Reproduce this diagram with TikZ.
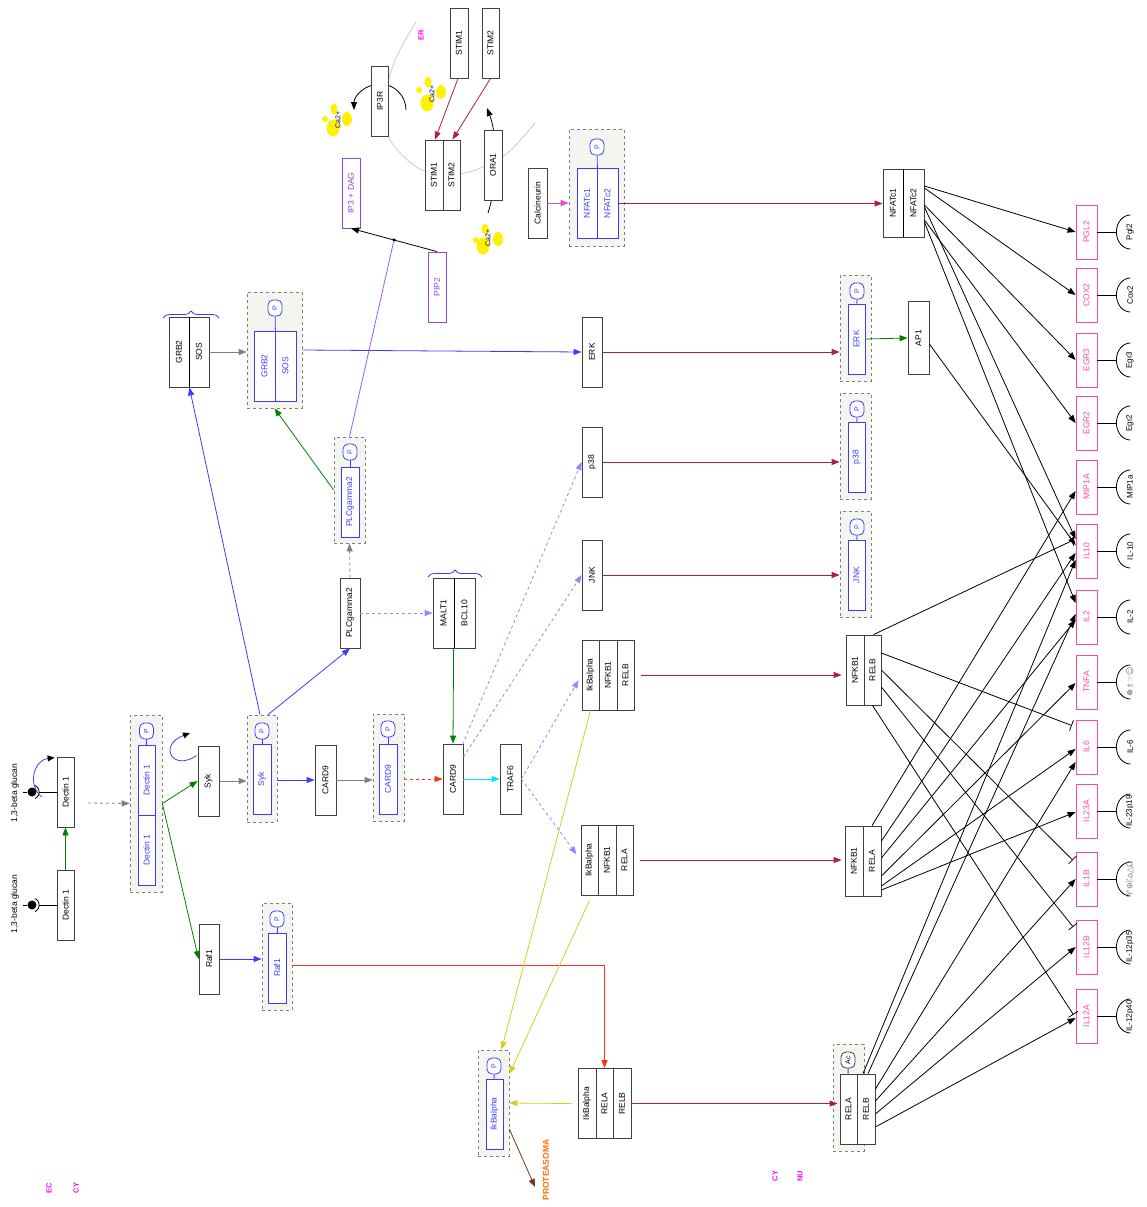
\documentclass[tikz,border=0pt]{standalone}
\usepackage{fontspec}
\setmainfont{Liberation Sans}
\newfontfamily\symfont{DejaVu Sans}
\usetikzlibrary{arrows.meta, calc, decorations.pathreplacing}
\definecolor{pblue}{RGB}{60,60,255}
\definecolor{dgreen}{RGB}{0,130,0}
\definecolor{crim}{RGB}{175,30,75}
\definecolor{lred}{RGB}{255,50,30}
\definecolor{lav}{RGB}{160,130,255}
\definecolor{lip}{RGB}{140,70,225}
\definecolor{purp}{RGB}{160,90,235}
\definecolor{magen}{RGB}{220,80,220}
\definecolor{ccyan}{RGB}{0,230,255}
\definecolor{yel}{RGB}{210,205,40}
\definecolor{brn}{RGB}{110,60,20}
\definecolor{gpink}{RGB}{255,70,170}
\definecolor{lblpink}{RGB}{255,0,255}
\definecolor{orng}{RGB}{255,110,0}
\definecolor{grpfill}{RGB}{245,245,240}
\newcommand{\rtx}[1]{\rotatebox{90}{#1}}
\tikzset{prot/.style={rectangle,draw=black!75,fill=white,line width=0.8pt,minimum width=20pt,minimum height=70pt,inner sep=0pt,font=\fontsize{8.5}{9}\selectfont},
pprot/.style={prot,draw=pblue,text=pblue},
lipid/.style={prot,draw=lip,text=lip},
gene/.style={prot,draw=gpink,text=gpink,minimum width=21pt,minimum height=54pt},
grp/.style={rectangle,draw=gray,dashed,fill=grpfill,line width=0.7pt,inner sep=0pt},
phos/.style={rectangle,rounded corners=5pt,draw=pblue,text=pblue,fill=white,line width=0.8pt,minimum width=14pt,minimum height=16pt,inner sep=0pt,font=\fontsize{7}{7}\selectfont},
comp/.style={font=\fontsize{7.5}{8}\selectfont\bfseries,text=lblpink},
line/.style={-{Triangle[length=8pt,width=6pt]},line width=0.8pt},
tbar/.style={-{Bar[width=11pt]},line width=0.8pt,shorten >=4pt},
brc/.style={draw=pblue,line width=0.8pt,decorate,decoration={brace,amplitude=7pt}}}

\begin{document}
\begin{tikzpicture}[x=1pt,y=-1pt]
\fill[white] (0,0) rectangle (1147,1207);
\useasboundingbox (0,0) rectangle (1147,1207);

% ER membrane and calcium
\draw[black!20,line width=0.8pt] plot[smooth] coordinates {(416,22) (396,58) (384,100) (390,140) (422,170) (465,173) (505,155) (535,123)};
\fill[yellow] (333,128) ellipse (6.5 and 8.5) (325,119) circle (3) (334,109) ellipse (3.5 and 5.5) (347,119) ellipse (5 and 7);
\fill[yellow] (427,103) ellipse (6.5 and 8.5) (419,90) circle (3) (428,82) ellipse (3.5 and 5.5) (441,92) ellipse (5 and 7);
\fill[yellow] (483,246) ellipse (6.5 and 8.5) (476,240) circle (3) (485,229) ellipse (3.5 and 5.5) (498,239) ellipse (5 and 7);
\node[font=\fontsize{7}{7}\selectfont] (caA) at (338,120) {\rtx{Ca2+}};
\node[font=\fontsize{7}{7}\selectfont] (caB) at (432,94) {\rtx{Ca2+}};
\node[font=\fontsize{7}{7}\selectfont] (caC) at (488,238) {\rtx{Ca2+}};
\draw[line] (406,110) arc[start angle=0,end angle=-180,radius=26];
\draw[line] (488,213) .. controls (496,190) and (499,140) .. (487,108);

% compartments
\node[comp] (ec) at (49,1188) {\rtx{EC}};
\node[comp] (cyA) at (76,1188) {\rtx{CY}};
\node[comp] (cyB) at (775,1176) {\rtx{CY}};
\node[comp] (nu) at (800,1176) {\rtx{NU}};
\node[comp] (er) at (421,35) {\rtx{ER}};
\node[font=\fontsize{8.5}{9}\selectfont\bfseries,text=orng] (prts) at (546,1170) {\rtx{PROTEASOMA}};
\coordinate (prtsIn) at (535,1187);
\coordinate (decDash) at (88,803);

% receptor
\node[font=\fontsize{8.5}{9}\selectfont] (glcA) at (15,904) {\rtx{1,3-beta glucan}};
\node[font=\fontsize{8.5}{9}\selectfont] (glcB) at (15,793) {\rtx{1,3-beta glucan}};
\node[prot,minimum width=17pt] (decA) at (65.5,905) {\rtx{Dectin 1}};
\node[prot,minimum width=17pt] (decB) at (65.5,792) {\rtx{Dectin 1}};
\node[circle,fill=black,minimum size=9pt,inner sep=0pt] (ligA) at (32,905) {};
\node[circle,fill=black,minimum size=9pt,inner sep=0pt] (ligB) at (32,792) {};
\draw[line width=0.8pt] ([shift={(3,-6.5)}]ligA.center) arc[start angle=-65,end angle=65,radius=7.2];
\draw[line width=0.8pt] ([shift={(3,-6.5)}]ligB.center) arc[start angle=-65,end angle=65,radius=7.2];
\draw[line width=0.8pt] ($(ligA)+(7.2,0)$) -- (decA.west);
\draw[line width=0.8pt] ($(ligB)+(7.2,0)$) -- (decB.west);
\draw[line width=0.8pt] (ligA.west) -- ++(-4,0);
\draw[line width=0.8pt] (ligB.west) -- ++(-4,0);
\draw[pblue,line width=0.8pt,-{Triangle[length=7pt,width=6pt,color=black]}] ($(decB.west)+(-15,5)$) .. controls ($(decB.west)+(-30,-8)$) and ($(decB.west)+(-22,-32)$) .. ($(decB.north west)+(-2,1)$);

% Dectin 1 dimer
\node[grp,minimum width=32pt,minimum height=177pt] (gDec) at (146,803.5) {};
\node[pprot,minimum width=17pt] (pdecA) at (146.5,780) {\rtx{Dectin 1}};
\node[pprot,minimum width=17pt] (pdecB) at (146.5,850) {\rtx{Dectin 1}};
\draw[pblue,line width=1.4pt] (pdecA.south west) -- (pdecA.south east);
\node[phos] (phDec) at (146.5,731) {\rtx{P}};
\draw[pblue,line width=0.8pt] (phDec) -- (pdecA);

% Syk
\node[prot,minimum width=21pt] (syk) at (208.5,781) {\rtx{Syk}};
\draw[pblue,line width=0.8pt,-{Triangle[length=7pt,width=6pt,color=black]}] ($(syk.north west)+(-1,10)$) .. controls (172,772) and (158,745) .. (190,733);
\node[grp,minimum width=30pt,minimum height=107pt] (gSyk) at (262,768.5) {};
\node[pprot,minimum width=18pt] (psyk) at (262,779.5) {\rtx{Syk}};
\node[phos] (phSyk) at (262,731) {\rtx{P}};
\draw[pblue,line width=0.8pt] (phSyk) -- (psyk);

% Raf1
\node[prot] (raf) at (209,959) {\rtx{Raf1}};
\node[grp,minimum width=30pt,minimum height=107pt] (gRaf) at (277,956.5) {};
\node[pprot,minimum width=18pt] (praf) at (277,968) {\rtx{Raf1}};
\node[phos] (phRaf) at (277,919) {\rtx{P}};
\draw[pblue,line width=0.8pt] (phRaf) -- (praf);

% CARD9
\node[prot,minimum width=21pt] (cardA) at (325.5,780) {\rtx{CARD9}};
\node[grp,minimum width=31pt,minimum height=107pt] (gCard) at (388.5,767.5) {};
\node[pprot,minimum width=18pt] (pcard) at (388,779) {\rtx{CARD9}};
\node[phos] (phCard) at (388,729) {\rtx{P}};
\draw[pblue,line width=0.8pt] (phCard) -- (pcard);
\node[prot] (cardB) at (453,779) {\rtx{CARD9}};
\node[prot,minimum width=21pt] (traf) at (510.5,779) {\rtx{TRAF6}};

% GRB2/SOS
\node[prot] (grb) at (179,352) {\rtx{GRB2}};
\node[prot] (sos) at (199,352) {\rtx{SOS}};
\draw[line width=1.5pt] (grb.north east) -- (grb.south east);
\draw[brc] (163,318) -- (219,318);
\node[grp,minimum width=55pt,minimum height=116pt] (gGrb) at (274.5,350) {};
\node[pprot,minimum width=21pt] (pgrb) at (264.5,366) {\rtx{GRB2}};
\node[pprot,minimum width=21pt] (psos) at (285.5,366) {\rtx{SOS}};
\draw[pblue,line width=1.4pt] (pgrb.north east) -- (pgrb.south east);
\node[phos] (phGrb) at (275,308) {\rtx{P}};
\draw[pblue,line width=0.8pt] (phGrb) -- (pgrb.north east);

% PLCgamma2
\node[prot] (plcg) at (350,613) {\rtx{PLCgamma2}};
\node[grp,minimum width=31pt,minimum height=106pt] (gPlc) at (349.5,490) {};
\node[pprot,minimum width=18pt] (pplc) at (350,502) {\rtx{PLCgamma2}};
\node[phos] (phPlc) at (350,452) {\rtx{P}};
\draw[pblue,line width=0.8pt] (phPlc) -- (pplc);

% MALT1/BCL10
\node[prot,minimum width=21pt] (malt) at (443.5,613) {\rtx{MALT1}};
\node[prot,minimum width=21pt] (bcl) at (464.5,613) {\rtx{BCL10}};
\draw[line width=1.5pt] (malt.north east) -- (malt.south east);
\draw[brc] (428,577) -- (482,577);

% lipids, IP3R, STIM, ORA1
\node[lipid,minimum width=18pt] (ipdag) at (351,193) {\rtx{IP3 + DAG}};
\node[lipid,minimum width=18pt] (pip) at (437,287) {\rtx{PIP2}};
\node[circle,fill=black,inner sep=0pt,minimum size=3.5pt] (ipdot) at (394,240) {};
\node[prot,minimum width=17pt] (iptr) at (380,101) {\rtx{IP3R}};
\node[prot,minimum width=18pt] (stimT) at (459,43) {\rtx{STIM1}};
\node[prot,minimum width=17pt] (stimU) at (490.5,43) {\rtx{STIM2}};
\node[prot,minimum width=18pt] (stimA) at (434,175) {\rtx{STIM1}};
\node[prot,minimum width=17pt] (stimB) at (451.5,175) {\rtx{STIM2}};
\node[prot,minimum width=18pt] (ora) at (493,165) {\rtx{ORA1}};
\node[prot,minimum width=19pt] (calc) at (537.5,203) {\rtx{Calcineurin}};

% NFATc
\node[grp,minimum width=55pt,minimum height=117pt] (gNfat) at (596.5,187.5) {};
\node[pprot,minimum width=20pt] (pnfatA) at (587,203.5) {\rtx{NFATc1}};
\node[pprot,minimum width=21pt] (pnfatB) at (607.5,203.5) {\rtx{NFATc2}};
\draw[pblue,line width=1.4pt] (pnfatA.north east) -- (pnfatA.south east);
\node[phos] (phNfat) at (597,147) {\rtx{P}};
\draw[pblue,line width=0.8pt] (phNfat) -- (pnfatA.north east);
\node[prot,minimum height=68pt] (nfatA) at (893,203) {\rtx{NFATc1}};
\node[prot,minimum width=21pt,minimum height=68pt] (nfatB) at (913.5,203) {\rtx{NFATc2}};
\draw[line width=1.5pt] (nfatA.north east) -- (nfatA.south east);

% MAP kinases
\node[prot] (erk) at (592,352) {\rtx{ERK}};
\node[prot] (pthr) at (592,462) {\rtx{p38}};
\node[prot] (jnk) at (592,575) {\rtx{JNK}};
\node[grp,minimum width=31pt,minimum height=106pt] (gErk) at (855.5,328) {};
\node[pprot,minimum width=17pt] (perk) at (856.5,339) {\rtx{ERK}};
\node[phos] (phErk) at (857,291) {\rtx{P}};
\draw[pblue,line width=0.8pt] (phErk) -- (perk);
\node[grp,minimum width=31pt,minimum height=106pt] (gPthr) at (855.5,446) {};
\node[pprot,minimum width=17pt] (ppthr) at (856.5,457) {\rtx{p38}};
\node[phos] (phPthr) at (857,409) {\rtx{P}};
\draw[pblue,line width=0.8pt] (phPthr) -- (ppthr);
\node[grp,minimum width=31pt,minimum height=106pt] (gJnk) at (855.5,564) {};
\node[pprot,minimum width=17pt] (pjnk) at (856.5,575) {\rtx{JNK}};
\node[phos] (phJnk) at (857,527) {\rtx{P}};
\draw[pblue,line width=0.8pt] (phJnk) -- (pjnk);
\node[prot,minimum width=21pt,minimum height=73pt] (apo) at (918.5,338) {\rtx{AP1}};

% NF-kB complexes
\node[prot,minimum width=17pt] (ikbBa) at (590.5,675) {\rtx{IkBalpha}};
\node[prot,minimum width=18pt] (ikbBb) at (608,675) {\rtx{NFKB1}};
\node[prot,minimum width=17pt] (ikbBc) at (625.5,675) {\rtx{RELB}};
\node[prot,minimum width=17pt] (ikbAa) at (589.5,860) {\rtx{IkBalpha}};
\node[prot,minimum width=18pt] (ikbAb) at (607,860) {\rtx{NFKB1}};
\node[prot,minimum width=17pt] (ikbAc) at (624.5,860) {\rtx{RELA}};
\node[prot,minimum width=18pt] (ikbRa) at (587,1103.5) {\rtx{IkBalpha}};
\node[prot,minimum width=17pt] (ikbRb) at (604.5,1103.5) {\rtx{RELA}};
\node[prot,minimum width=18pt] (ikbRc) at (622,1103.5) {\rtx{RELB}};
\node[grp,minimum width=31pt,minimum height=106pt] (gIkb) at (493.5,1103) {};
\node[pprot,minimum width=17pt] (pikb) at (494.5,1114) {\rtx{IkBalpha}};
\node[phos] (phIkb) at (494,1066) {\rtx{P}};
\draw[pblue,line width=0.8pt] (phIkb) -- (pikb);
\node[prot,minimum width=18pt] (nfkbBa) at (855,670) {\rtx{NFKB1}};
\node[prot,minimum width=17pt] (nfkbBb) at (872.5,670) {\rtx{RELB}};
\node[prot,minimum width=18pt] (nfkbAa) at (854,861) {\rtx{NFKB1}};
\node[prot,minimum width=18pt] (nfkbAb) at (872,861) {\rtx{RELA}};
\node[grp,minimum width=31pt,minimum height=107pt] (gAc) at (848.5,1097.5) {};
\node[prot,minimum width=17pt] (relA) at (848.5,1109) {\rtx{RELA}};
\node[prot,minimum width=18pt] (relB) at (866,1109) {\rtx{RELB}};
\node[phos,draw=black!75,text=black] (acet) at (848,1060) {\rtx{Ac}};
\draw[pblue,line width=0.8pt] (acet) -- (relA);

% target genes
\foreach \g/\yy/\nm/\lab in {pgl/232/PGL2/Pgl2, cox/295/COX2/Cox2, egrC/360/EGR3/Egr3, egrB/423/EGR2/Egr2, mip/487/MIP1A/MIP1a, ilten/551/IL10/IL-10, iltwo/617/IL2/IL-2, tnf/682/TNFA/{\symfont\color{black!55}☸♗☞☺}, ilsix/747/IL6/IL-6, iltt/811/IL23A/IL-23p19, ilob/879/IL1B/{\symfont\color{black!55}♈⊛ℰ⌂△Ω}, iltwb/947/IL12B/IL-12p35, iltwa/1016/IL12A/IL-12p40}{
  \node[gene] (\g) at (1086.5,\yy) {\rtx{\nm}};
  \draw[line width=0.8pt] (\g.east) -- ++(19,0) coordinate (\g-c);
  \draw[line width=0.8pt] ($(\g-c)+(14,-17)$) arc[start angle=270,end angle=90,x radius=14,y radius=17];
  \node[font=\fontsize{8}{8}\selectfont] (\g-l) at (1130,\yy) {\rtx{\lab}};
}

% connectors
\draw[line,dgreen] (decA.north) -- (decB.south);
\draw[line,gray,dashed] (decDash) -- (gDec.west);
\draw[line,dgreen] (gDec.east) -- (syk.west);
\draw[line,dgreen] (gDec.east) -- (raf.west);
\draw[line,gray] (syk.east) -- (syk.east -| gSyk.west);
\draw[line,pblue] (gSyk.east |- cardA) -- (cardA.west);
\draw[line,pblue] (raf.east) -- (raf.east -| gRaf.west);
\draw[line,pblue] ($(gSyk.north)+(-2,0)$) -- (grb.south east);
\draw[line,pblue] ($(gSyk.north)+(6,0)$) -- (plcg.south);
\draw[line,lred] ($(gRaf.east)+(0,8.5)$) -| (ikbRb.north);
\draw[line,gray] (cardA.east) -- (cardA.east -| gCard.west);
\draw[line,lred,dashed] (gCard.east |- cardB) -- (cardB.west);
\draw[line,ccyan] (cardB.east) -- (traf.west);
\draw[line,dgreen] (bcl.south west) -- (cardB.north);
\draw[line,gray,dashed] (plcg.north) -- (gPlc.south);
\draw[line,lav,dashed] (plcg.east) -- (malt.west);
\draw[line,dgreen] (gPlc.west) -- (gGrb.south);
\draw[purp,line width=0.8pt] (gPlc.north) -- (ipdot);
\draw[line] (pip.north) -- (ipdag.south);
\draw[line,gray] (sos.east) -- (sos.east -| gGrb.west);
\draw[line,pblue] (gGrb.east) -- (erk.west);
\draw[line,crim] (erk.east) -- (erk.east -| gErk.west);
\draw[line,crim] (pthr.east) -- (pthr.east -| gPthr.west);
\draw[line,crim] (jnk.east) -- (jnk.east -| gJnk.west);
\draw[line,dgreen] (perk.east) -- (apo.west);
\draw[line,lav,dashed] ($(cardB.north east)+(-1,1)$) -- (pthr.west);
\draw[line,lav,dashed] ($(cardB.east)+(0,-22)$) -- (jnk.west);
\draw[line,lav,dashed,shorten >=6pt] (traf.east) -- (ikbBa.west);
\draw[line,lav,dashed,shorten >=7pt] (traf.east) -- (ikbAa.west);
\draw[line,yel] (ikbBa.south) -- ($(gIkb.north)+(8,0)$);
\draw[line,yel] ($(ikbAa.south)+(0,5)$) -- ($(gIkb.east)+(0,-29)$);
\draw[line,yel] ($(ikbRa.west)+(-6,0)$) -- (gIkb.east);
\draw[line,brn] ($(gIkb.east)+(0,26)$) -- (prtsIn);
\draw[line,crim,shorten <=7pt,shorten >=4pt] (ikbBc.east) -- (ikbBc.east -| nfkbBa.west);
\draw[line,crim,shorten <=7pt,shorten >=3pt] (ikbAc.east) -- (ikbAc.east -| nfkbAa.west);
\draw[line,crim,shorten >=2pt] (ikbRc.east) -- (ikbRc.east -| relA.west);
\draw[line,magen] (calc.east) -- (calc.east -| gNfat.west);
\draw[line,crim] (pnfatB.east) -- (pnfatB.east -| nfatA.west);
\draw[line,crim] ($(stimT.south)+(-1,0)$) -- ($(stimA.north)+(1,0)$);
\draw[line,crim] (stimU.south) -- ($(stimB.north)+(1,0)$);

% gene regulation
\draw[line] ($(nfatB.east)+(0,-17)$) -- (pgl.west);
\draw[line] ($(nfatB.east)+(0,-15)$) -- (cox.west);
\draw[line] ($(nfatB.east)+(0,2)$) -- (egrC.west);
\draw[line] ($(nfatB.east)+(0,4)$) -- ($(ilten.west)+(0,-12)$);
\draw[line] ($(nfatB.east)+(0,17)$) -- (egrB.west);
\draw[line] ($(nfatB.east)+(0,19)$) -- ($(iltwo.west)+(0,-14)$);
\draw[line] ($(apo.east)+(0,6)$) -- ($(ilten.west)+(0,-6)$);
\draw[tbar] ($(nfkbBb.north)+(1,0)$) -- ($(ilten.west)+(0,-12)$);
\draw[tbar] ($(nfkbBb.east)+(0,-17)$) -- ($(ilsix.west)+(0,-20)$);
\draw[tbar] (nfkbBb.east) -- ($(ilob.west)+(0,-16)$);
\draw[tbar] ($(nfkbBb.east)+(0,17)$) -- ($(iltwb.west)+(0,-17)$);
\draw[tbar] (nfkbBb.south) -- ($(iltwa.west)+(0,2)$);
\draw[line] (nfkbAb.north) -- ($(mip.west)+(0,4)$);
\draw[line] ($(nfkbAb.east)+(0,-20)$) -- ($(ilten.west)+(0,2)$);
\draw[line] ($(nfkbAb.east)+(0,-3)$) -- ($(iltwo.west)+(0,3)$);
\draw[line] ($(nfkbAb.east)+(0,15)$) -- ($(tnf.west)+(0,1)$);
\draw[line] ($(nfkbAb.east)+(0,25)$) -- ($(ilsix.west)+(0,2)$);
\draw[line] ($(nfkbAb.east)+(0,29)$) -- ($(iltt.west)+(0,1)$);
\draw[line] ($(relB.north)+(-3,0)$) -- ($(ilten.west)+(0,9)$);
\draw[line] ($(relB.north)+(2,0)$) -- ($(iltwo.west)+(0,-3)$);
\draw[line] ($(relB.east)+(0,-20)$) -- ($(ilsix.west)+(0,15)$);
\draw[line] ($(relB.east)+(0,-8)$) -- (ilob.west);
\draw[line] ($(relB.east)+(0,5)$) -- (iltwb.west);
\draw[line] ($(relB.east)+(0,18)$) -- ($(iltwa.west)+(0,2)$);
\end{tikzpicture}
\end{document}
